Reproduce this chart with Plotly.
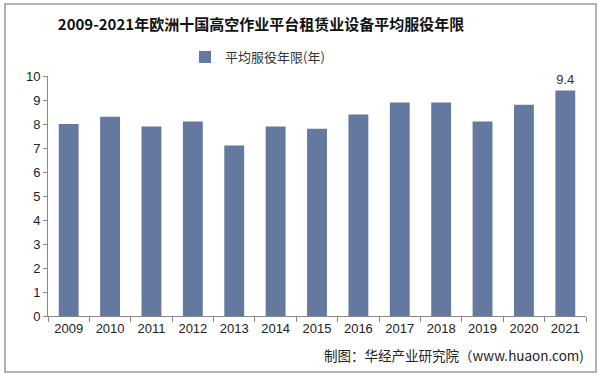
import plotly.graph_objects as go

years = ["2009", "2010", "2011", "2012", "2013", "2014", "2015", "2016", "2017", "2018", "2019", "2020", "2021"]
service_years = [8.0, 8.3, 7.9, 8.1, 7.1, 7.9, 7.8, 8.4, 8.9, 8.9, 8.1, 8.8, 9.4]
series_name = "平均服役年限(年)"
title_text = "2009-2021年欧洲十国高空作业平台租赁业设备平均服役年限"
source_text = "制图：华经产业研究院（www.huaon.com)"

labels = ["" for _ in service_years]
labels[-1] = f"{service_years[-1]}"

W, H = 604, 380
ml, mr, mt, mb = 48, 18, 76, 64
pw, ph = W - ml - mr, H - mt - mb

def px_x(x):
    return (x - ml) / pw

def px_y(y):
    return (H - mb - y) / ph

fig = go.Figure()
fig.add_trace(go.Bar(
    x=years, y=service_years, name=series_name,
    marker=dict(color="#64799F", line=dict(width=0)),
    width=0.48,
    text=labels, textposition="outside", cliponaxis=False,
    textfont=dict(family="Liberation Sans, Arial", size=13, color="#333333"),
))

fig.update_layout(
    width=W, height=H,
    margin=dict(l=ml, r=mr, t=mt, b=mb, autoexpand=False),
    paper_bgcolor="white", plot_bgcolor="white",
    font=dict(family="Liberation Sans, Arial, Noto Sans CJK SC", size=13, color="#333333"),
    title=dict(text=title_text, x=261 / W, xanchor="center", y=1 - 25 / H, yanchor="middle",
               font=dict(family="Noto Sans CJK SC", size=15, color="#111111", weight="bold")),
    showlegend=True,
    legend=dict(orientation="h", xref="container", yref="container",
                x=185 / W, xanchor="left", y=1 - 57 / H, yanchor="middle",
                font=dict(family="Noto Sans CJK SC", size=13, color="#333333"),
                itemwidth=30, bgcolor="rgba(0,0,0,0)"),
    xaxis=dict(type="category", showline=True, linecolor="#888888", linewidth=1,
               ticks="outside", tickson="boundaries", ticklen=5, tickcolor="#888888",
               showgrid=False, automargin=False, tickfont=dict(size=13, color="#222222")),
    yaxis=dict(range=[0, 10], dtick=1, showline=True, linecolor="#888888", linewidth=1,
               ticks="outside", ticklen=4, tickcolor="#888888", showgrid=False,
               automargin=False, zeroline=False, tickfont=dict(size=13, color="#222222")),
    shapes=[dict(type="rect", xref="paper", yref="paper",
                 x0=px_x(5), x1=px_x(596), y0=px_y(372), y1=px_y(4),
                 line=dict(color="#999999", width=1.5), fillcolor="rgba(0,0,0,0)", layer="below")],
    annotations=[dict(text=source_text, xref="paper", yref="paper", x=px_x(586), y=px_y(355),
                      xanchor="right", yanchor="middle", showarrow=False,
                      font=dict(family="Noto Sans CJK SC", size=13.5, color="#222222"))],
)

fig.write_html("out.html", config={"displayModeBar": False},
               post_script="document.body.style.margin='0';")
